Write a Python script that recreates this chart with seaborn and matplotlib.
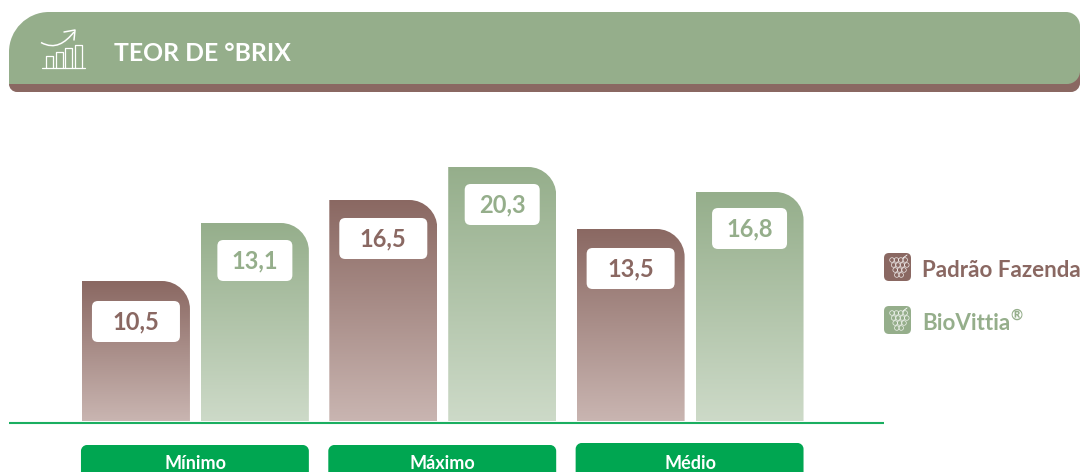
import numpy as np
import pandas as pd
import matplotlib.pyplot as plt
import seaborn as sns
from matplotlib.colors import LinearSegmentedColormap
from matplotlib.patches import Circle, FancyBboxPatch, PathPatch
from matplotlib.path import Path

categorias = ['Mínimo', 'Máximo', 'Médio']
series = ['Padrão Fazenda', 'BioVittia']
rotulos_padrao = ['10,5', '16,5', '13,5']
rotulos_bio = ['13,1', '20,3', '16,8']
# the drawn bars are not to scale with their labels, so heights are read off the picture
altura_padrao = [141, 222, 193]
altura_bio = [199, 255, 230]

MARROM = '#8a6862'
MARROM_CLARO = '#c9b5b1'
VERDE = '#95ae8b'
VERDE_CLARO = '#cddac8'
VERDE_FORTE = '#00a651'

sns.set_theme(style='white')
plt.rcParams['font.family'] = ['Lato', 'DejaVu Sans']

W, H = 1081, 472
fig = plt.figure(figsize=(W / 100, H / 100), dpi=100)

# overlay in pixel coordinates for the header and the decoration
bg = fig.add_axes([0, 0, 1, 1], zorder=0)
bg.set_xlim(0, W)
bg.set_ylim(H, 0)
bg.axis('off')

ax = fig.add_axes([71.75 / W, (H - 422) / H, 742.0 / W, 292 / H], zorder=2)
ax.patch.set_alpha(0)

data = pd.DataFrame({
    'categoria': categorias * 2,
    'serie': [series[0]] * 3 + [series[1]] * 3,
    'altura': altura_padrao + altura_bio,
})
sns.barplot(data=data, x='categoria', y='altura', hue='serie', order=categorias,
            hue_order=series, width=0.9616, gap=0.092, legend=False, ax=ax)
ax.set_ylim(0, 292)
ax.set_xlabel('')
ax.set_ylabel('')
ax.set_yticks([])
sns.despine(ax=ax, left=True, bottom=True)
ax.tick_params(axis='x', length=0, pad=24, labelsize=13, labelcolor='white')
for t in ax.get_xticklabels():
    t.set_fontweight('bold')


def rounded_path(x0, y0, x1, y1, tl, tr, br, bl):
    k = 0.45
    verts = [(x0, y0 + tl), (x0, y0 + tl * k), (x0 + tl * k, y0), (x0 + tl, y0),
             (x1 - tr, y0), (x1 - tr * k, y0), (x1, y0 + tr * k), (x1, y0 + tr),
             (x1, y1 - br), (x1, y1 - br * k), (x1 - br * k, y1), (x1 - br, y1),
             (x0 + bl, y1), (x0 + bl * k, y1), (x0, y1 - bl * k), (x0, y1 - bl),
             (x0, y0 + tl)]
    codes = [Path.MOVETO] + [Path.CURVE4] * 3 + [Path.LINETO] + [Path.CURVE4] * 3 + [Path.LINETO] \
        + [Path.CURVE4] * 3 + [Path.LINETO] + [Path.CURVE4] * 3 + [Path.CLOSEPOLY]
    return Path(verts, codes)


def caixa(x0, y0, x1, y1, r, cor, z=3):
    bg.add_patch(FancyBboxPatch((x0 + r, y0 + r), x1 - x0 - 2 * r, y1 - y0 - 2 * r,
                                boxstyle=f'round,pad={r},rounding_size={r}',
                                fc=cor, ec='none', zorder=z))


# header band
bg.add_patch(PathPatch(rounded_path(9, 60, 1080, 92, 0, 0, 9, 8), fc=MARROM, ec='none', zorder=1))
bg.add_patch(PathPatch(rounded_path(9, 12, 1080, 84, 40, 14, 13, 0), fc=VERDE, ec='none', zorder=2))
bg.text(113.5, 53.5, 'TEOR DE °BRIX', color='white', fontsize=17.8, fontweight='bold',
        va='center', ha='left', zorder=3)

# chart icon of the header
bg.plot([42, 85], [67.5, 67.5], color='white', lw=0.9, zorder=3)
for bx, bt in [(46, 56), (56, 52), (65, 48), (75, 45)]:
    bg.plot([bx, bx, bx + 6.5, bx + 6.5], [67.5, bt, bt, 67.5], color='white', lw=0.9, zorder=3)
seta = Path([(41, 42.5), (55, 50), (65, 43), (74, 32)], [Path.MOVETO, Path.CURVE4, Path.CURVE4, Path.CURVE4])
bg.add_patch(PathPatch(seta, fc='none', ec='white', lw=1.1, zorder=3))
bg.plot([64, 75, 74], [32, 30, 40], color='white', lw=1.1, zorder=3)

# gradient bars, placed on the geometry seaborn computed
barras = [p for c in ax.containers for p in c]
rotulos = rotulos_padrao + rotulos_bio
largura_caixa = [88, 88, 88, 75, 75, 75]
topo_caixa = [20, 18, 19, 17, 17, 16]
fig.canvas.draw()
for i, bar in enumerate(barras):
    bb = bar.get_window_extent()
    x0, x1 = bb.x0, bb.x1
    y0, y1 = H - bb.y1, H - bb.y0 - 1
    bar.set_visible(False)
    topo, base = (MARROM, MARROM_CLARO) if i < 3 else (VERDE, VERDE_CLARO)
    cmap = LinearSegmentedColormap.from_list('g', [topo, base])
    im = bg.imshow(np.linspace(0, 1, 256).reshape(-1, 1), cmap=cmap, aspect='auto',
                   extent=(x0, x1, y1, y0), zorder=2)
    clip = PathPatch(rounded_path(x0, y0, x1, y1, 0, 28, 0, 0), transform=bg.transData, fc='none', ec='none')
    bg.add_patch(clip)
    im.set_clip_path(clip)
    meio = (x0 + x1) / 2
    w = largura_caixa[i]
    yt = y0 + topo_caixa[i]
    caixa(meio - w / 2, yt, meio + w / 2, yt + 41, 6, 'white')
    bg.text(meio, yt + 21, rotulos[i], color=topo, fontsize=17, fontweight='bold',
            ha='center', va='center', zorder=4)

    # category pill under each pair
    if i < 3:
        par = barras[i + 3].get_window_extent()
        py = 443 if i == 2 else 445
        bg.add_patch(PathPatch(rounded_path(x0 - 1, py, par.x1, H + 8, 6, 6, 0, 0),
                               fc=VERDE_FORTE, ec='none', zorder=2))

bg.set_xlim(0, W)
bg.set_ylim(H, 0)

# baseline
bg.plot([9, 884], [422.5, 422.5], color='#1aae60', lw=1.5, zorder=5, solid_capstyle='butt')

# legend
for s, cor, yc in zip(series, [MARROM, VERDE], [267, 320]):
    caixa(884, yc - 14, 911, yc + 14, 5, cor)
    for row, (n, ry) in enumerate([(4, -7), (4, -2), (3, 3), (2, 8)]):
        for j in range(n):
            cx = 892 + row * 1.6 + j * 4.4
            bg.add_patch(Circle((cx, yc + ry), 2.3, fc='none', ec='white', lw=0.5, alpha=0.85, zorder=4))
    bg.plot([903, 907], [yc - 9, yc - 12], color='white', lw=0.6, zorder=4)
    bg.text(922, yc + 3.5, s, color=cor, fontsize=16.1, fontweight='bold', ha='left', va='center', zorder=4)
bg.text(1010, 316, '®', color=VERDE, fontsize=10.5, fontweight='bold', ha='left', va='center', zorder=4)

fig.savefig('out.png', dpi=100)
